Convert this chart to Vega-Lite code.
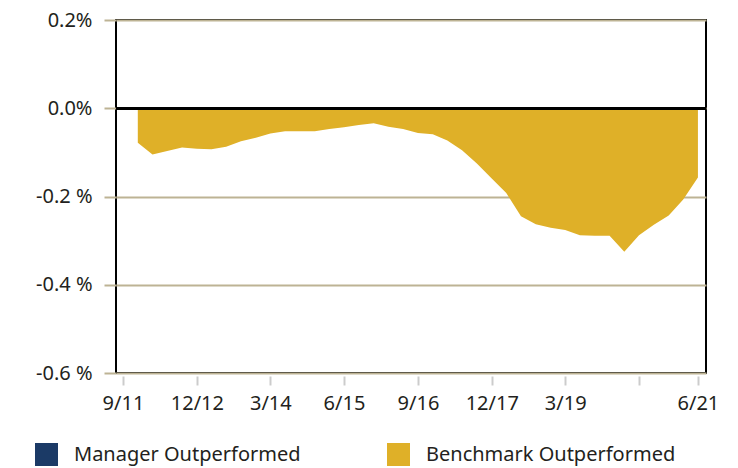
{
  "$schema": "https://vega.github.io/schema/vega-lite/v6.json",
  "width": 590,
  "height": 353,
  "autosize": {"type": "none"},
  "padding": {"left": 116, "top": 20, "right": 32, "bottom": 95},
  "background": "white",
  "config": {
    "view": {"stroke": "#000000", "strokeWidth": 2},
    "font": "Noto Sans"
  },
  "data": {
    "values": [
      {"date": "2011-12-31T00:00:00", "value": -0.078, "series": "Benchmark Outperformed"},
      {"date": "2012-03-31T00:00:00", "value": -0.105, "series": "Benchmark Outperformed"},
      {"date": "2012-06-30T00:00:00", "value": -0.097, "series": "Benchmark Outperformed"},
      {"date": "2012-09-30T00:00:00", "value": -0.089, "series": "Benchmark Outperformed"},
      {"date": "2012-12-31T00:00:00", "value": -0.092, "series": "Benchmark Outperformed"},
      {"date": "2013-03-31T00:00:00", "value": -0.093, "series": "Benchmark Outperformed"},
      {"date": "2013-06-30T00:00:00", "value": -0.087, "series": "Benchmark Outperformed"},
      {"date": "2013-09-30T00:00:00", "value": -0.075, "series": "Benchmark Outperformed"},
      {"date": "2013-12-31T00:00:00", "value": -0.067, "series": "Benchmark Outperformed"},
      {"date": "2014-03-31T00:00:00", "value": -0.057, "series": "Benchmark Outperformed"},
      {"date": "2014-06-30T00:00:00", "value": -0.052, "series": "Benchmark Outperformed"},
      {"date": "2014-09-30T00:00:00", "value": -0.052, "series": "Benchmark Outperformed"},
      {"date": "2014-12-31T00:00:00", "value": -0.052, "series": "Benchmark Outperformed"},
      {"date": "2015-03-31T00:00:00", "value": -0.047, "series": "Benchmark Outperformed"},
      {"date": "2015-06-30T00:00:00", "value": -0.043, "series": "Benchmark Outperformed"},
      {"date": "2015-09-30T00:00:00", "value": -0.038, "series": "Benchmark Outperformed"},
      {"date": "2015-12-31T00:00:00", "value": -0.034, "series": "Benchmark Outperformed"},
      {"date": "2016-03-31T00:00:00", "value": -0.042, "series": "Benchmark Outperformed"},
      {"date": "2016-06-30T00:00:00", "value": -0.047, "series": "Benchmark Outperformed"},
      {"date": "2016-09-30T00:00:00", "value": -0.056, "series": "Benchmark Outperformed"},
      {"date": "2016-12-31T00:00:00", "value": -0.059, "series": "Benchmark Outperformed"},
      {"date": "2017-03-31T00:00:00", "value": -0.073, "series": "Benchmark Outperformed"},
      {"date": "2017-06-30T00:00:00", "value": -0.095, "series": "Benchmark Outperformed"},
      {"date": "2017-09-30T00:00:00", "value": -0.125, "series": "Benchmark Outperformed"},
      {"date": "2017-12-31T00:00:00", "value": -0.159, "series": "Benchmark Outperformed"},
      {"date": "2018-03-31T00:00:00", "value": -0.192, "series": "Benchmark Outperformed"},
      {"date": "2018-06-30T00:00:00", "value": -0.245, "series": "Benchmark Outperformed"},
      {"date": "2018-09-30T00:00:00", "value": -0.263, "series": "Benchmark Outperformed"},
      {"date": "2018-12-31T00:00:00", "value": -0.271, "series": "Benchmark Outperformed"},
      {"date": "2019-03-31T00:00:00", "value": -0.276, "series": "Benchmark Outperformed"},
      {"date": "2019-06-30T00:00:00", "value": -0.288, "series": "Benchmark Outperformed"},
      {"date": "2019-09-30T00:00:00", "value": -0.289, "series": "Benchmark Outperformed"},
      {"date": "2019-12-31T00:00:00", "value": -0.289, "series": "Benchmark Outperformed"},
      {"date": "2020-03-31T00:00:00", "value": -0.325, "series": "Benchmark Outperformed"},
      {"date": "2020-06-30T00:00:00", "value": -0.288, "series": "Benchmark Outperformed"},
      {"date": "2020-09-30T00:00:00", "value": -0.264, "series": "Benchmark Outperformed"},
      {"date": "2020-12-31T00:00:00", "value": -0.243, "series": "Benchmark Outperformed"},
      {"date": "2021-03-31T00:00:00", "value": -0.207, "series": "Benchmark Outperformed"},
      {"date": "2021-06-30T00:00:00", "value": -0.157, "series": "Benchmark Outperformed"}
    ]
  },
  "layer": [
    {
      "mark": {"type": "area", "opacity": 1},
      "encoding": {
        "x": {
          "field": "date",
          "type": "temporal",
          "scale": {"domain": [{"year": 2011, "month": 8, "date": 18}, {"year": 2021, "month": 8, "date": 19}]},
          "axis": {
            "title": null,
            "grid": false,
            "domain": false,
            "values": [
              {"year": 2011, "month": 9, "date": 30},
              {"year": 2012, "month": 12, "date": 31},
              {"year": 2014, "month": 3, "date": 31},
              {"year": 2015, "month": 6, "date": 30},
              {"year": 2016, "month": 9, "date": 30},
              {"year": 2017, "month": 12, "date": 31},
              {"year": 2019, "month": 3, "date": 31},
              {"year": 2020, "month": 6, "date": 30},
              {"year": 2021, "month": 6, "date": 30}
            ],
            "labelExpr": "year(datum.value) == 2020 ? '' : timeFormat(datum.value, '%-m/%y')",
            "tickColor": "#cccccc",
            "tickWidth": 2,
            "tickSize": 9,
            "offset": 3,
            "labelPadding": 8,
            "labelFontSize": 20,
            "labelColor": "#231f20",
            "labelFont": "Noto Sans"
          }
        },
        "y": {
          "field": "value",
          "type": "quantitative",
          "scale": {"domain": [-0.6, 0.2], "nice": false},
          "axis": {
            "title": null,
            "domain": false,
            "values": [0.2, 0, -0.2, -0.4, -0.6],
            "labelExpr": "(datum.value < 0 ? '-' : '') + format(abs(datum.value), '.1f') + (datum.value < 0 ? ' %' : '%')",
            "grid": true,
            "gridColor": "#bdb394",
            "gridWidth": 2,
            "tickColor": "#bdb394",
            "tickWidth": 2,
            "tickSize": 12,
            "labelPadding": 12,
            "labelFontSize": 20,
            "labelColor": "#231f20",
            "labelFont": "Noto Sans"
          }
        },
        "y2": {"datum": 0},
        "color": {
          "field": "series",
          "type": "nominal",
          "scale": {
            "domain": ["Manager Outperformed", "Benchmark Outperformed"],
            "range": ["#1b3a66", "#dfb028"]
          },
          "legend": {
            "title": null,
            "orient": "none",
            "direction": "horizontal",
            "legendX": -81,
            "legendY": 423,
            "symbolType": "square",
            "symbolSize": 529,
            "symbolStrokeWidth": 0,
            "symbolOpacity": 1,
            "labelOffset": 16,
            "labelFontSize": 20,
            "labelFont": "Noto Sans",
            "labelColor": "#231f20",
            "labelLimit": 400,
            "columnPadding": 86
          }
        }
      }
    },
    {
      "mark": {"type": "rule", "color": "#000000", "strokeWidth": 2},
      "encoding": {"y": {"datum": 0}}
    }
  ]
}
